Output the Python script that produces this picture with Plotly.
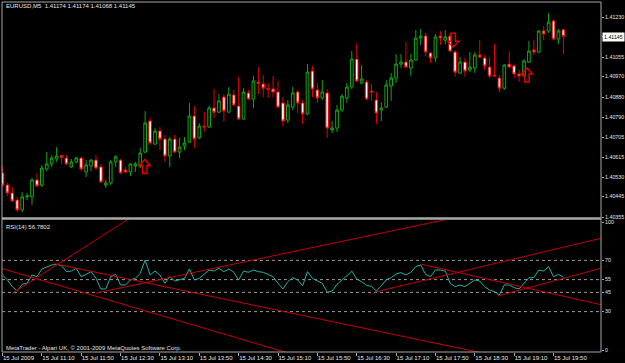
import plotly.graph_objects as go

# ---------------- data ----------------
bars = list(range(115))  # 5-minute bars, 15 Jul 2009 10:30 .. 20:00

opens = [1.40548, 1.40495, 1.40460, 1.40429, 1.40386, 1.40443, 1.40443, 1.40517, 1.40495, 1.40565,
         1.40587, 1.40609, 1.40624, 1.40613, 1.40574, 1.40596, 1.40613, 1.40552, 1.40578, 1.40604,
         1.40574, 1.40495, 1.40504, 1.40596, 1.40604, 1.40561, 1.40552, 1.40578, 1.40578, 1.40639,
         1.40775, 1.40674, 1.40731, 1.40696, 1.40622, 1.40696, 1.40639, 1.40666, 1.40683, 1.40797,
         1.40701, 1.40753, 1.40749, 1.40832, 1.40814, 1.40880, 1.40814, 1.40889, 1.40841, 1.40784,
         1.40898, 1.40871, 1.40946, 1.40937, 1.40917, 1.40915, 1.40902, 1.40854, 1.40779, 1.40836,
         1.40902, 1.40854, 1.40806, 1.40994, 1.40911, 1.40876, 1.40898, 1.40736, 1.40744, 1.40823,
         1.40876, 1.40924, 1.41046, 1.40941, 1.40946, 1.40906, 1.40867, 1.40823, 1.40836, 1.40928,
         1.40963, 1.41024, 1.41033, 1.41007, 1.41042, 1.41138, 1.41147, 1.41073, 1.41051, 1.41147,
         1.41129, 1.41147, 1.41077, 1.40985, 1.41033, 1.40998, 1.41007, 1.41064, 1.41051, 1.41011,
         1.40976, 1.40963, 1.40919, 1.41024, 1.41016, 1.40981, 1.40972, 1.41033, 1.41086, 1.41077,
         1.41169, 1.41169, 1.41213, 1.41134, 1.41174]
highs = [1.40578, 1.40504, 1.40486, 1.40443, 1.40464, 1.40460, 1.40526, 1.40548, 1.40583, 1.40639,
         1.40626, 1.40661, 1.40626, 1.40626, 1.40609, 1.40618, 1.40618, 1.40604, 1.40609, 1.40626,
         1.40587, 1.40517, 1.40604, 1.40626, 1.40609, 1.40574, 1.40591, 1.40596, 1.40657, 1.40819,
         1.40788, 1.40744, 1.40749, 1.40714, 1.40705, 1.40714, 1.40701, 1.40705, 1.40854, 1.40841,
         1.40766, 1.40814, 1.40841, 1.40915, 1.40893, 1.40893, 1.40924, 1.40911, 1.40968, 1.40919,
         1.40911, 1.40972, 1.41011, 1.40976, 1.40941, 1.40972, 1.40950, 1.40880, 1.40867, 1.40924,
         1.40911, 1.40867, 1.41024, 1.41016, 1.40941, 1.40954, 1.40915, 1.40775, 1.40845, 1.40893,
         1.40941, 1.41081, 1.41116, 1.41020, 1.40954, 1.40937, 1.40902, 1.40858, 1.40954, 1.40985,
         1.41068, 1.41068, 1.41121, 1.41068, 1.41173, 1.41178, 1.41160, 1.41077, 1.41156, 1.41169,
         1.41173, 1.41160, 1.41086, 1.41055, 1.41051, 1.41077, 1.41077, 1.41129, 1.41064, 1.41055,
         1.41112, 1.40976, 1.41024, 1.41081, 1.41024, 1.40998, 1.41046, 1.41125, 1.41129, 1.41173,
         1.41191, 1.41248, 1.41221, 1.41178, 1.41174]
lows = [1.40486, 1.40447, 1.40421, 1.40377, 1.40377, 1.40429, 1.40408, 1.40486, 1.40486, 1.40556,
        1.40574, 1.40596, 1.40587, 1.40583, 1.40570, 1.40591, 1.40556, 1.40530, 1.40556, 1.40561,
        1.40504, 1.40482, 1.40495, 1.40574, 1.40543, 1.40548, 1.40534, 1.40552, 1.40569, 1.40635,
        1.40670, 1.40670, 1.40648, 1.40596, 1.40574, 1.40635, 1.40613, 1.40648, 1.40679, 1.40657,
        1.40696, 1.40727, 1.40744, 1.40788, 1.40810, 1.40771, 1.40812, 1.40841, 1.40779, 1.40779,
        1.40867, 1.40832, 1.40893, 1.40880, 1.40876, 1.40880, 1.40832, 1.40753, 1.40766, 1.40823,
        1.40810, 1.40762, 1.40801, 1.40880, 1.40854, 1.40867, 1.40701, 1.40723, 1.40727, 1.40814,
        1.40854, 1.40915, 1.40946, 1.40937, 1.40867, 1.40863, 1.40762, 1.40775, 1.40832, 1.40863,
        1.40941, 1.41007, 1.41007, 1.40972, 1.41038, 1.41108, 1.41059, 1.41029, 1.41033, 1.41108,
        1.41112, 1.41077, 1.40968, 1.40981, 1.40968, 1.40989, 1.40985, 1.41051, 1.40998, 1.40963,
        1.40968, 1.40902, 1.40911, 1.41007, 1.40963, 1.40946, 1.40968, 1.41029, 1.41064, 1.41073,
        1.41129, 1.41160, 1.41129, 1.41112, 1.41068]
closes = [1.40495, 1.40460, 1.40425, 1.40386, 1.40443, 1.40447, 1.40517, 1.40491, 1.40569, 1.40587,
          1.40613, 1.40622, 1.40615, 1.40587, 1.40596, 1.40613, 1.40565, 1.40583, 1.40604, 1.40569,
          1.40508, 1.40504, 1.40596, 1.40618, 1.40548, 1.40552, 1.40587, 1.40587, 1.40635, 1.40766,
          1.40679, 1.40731, 1.40696, 1.40622, 1.40696, 1.40639, 1.40661, 1.40679, 1.40797, 1.40696,
          1.40753, 1.40749, 1.40832, 1.40814, 1.40863, 1.40819, 1.40893, 1.40845, 1.40784, 1.40902,
          1.40871, 1.40950, 1.40939, 1.40919, 1.40913, 1.40902, 1.40836, 1.40775, 1.40845, 1.40898,
          1.40854, 1.40806, 1.40989, 1.40915, 1.40876, 1.40902, 1.40744, 1.40744, 1.40823, 1.40884,
          1.40924, 1.41046, 1.40950, 1.40959, 1.40871, 1.40902, 1.40810, 1.40832, 1.40933, 1.40963,
          1.41024, 1.41033, 1.41011, 1.41042, 1.41138, 1.41147, 1.41077, 1.41051, 1.41143, 1.41138,
          1.41143, 1.41081, 1.40989, 1.41033, 1.40994, 1.41011, 1.41064, 1.41055, 1.41016, 1.40972,
          1.40972, 1.40919, 1.41020, 1.41011, 1.40981, 1.40972, 1.41038, 1.41081, 1.41077, 1.41169,
          1.41156, 1.41208, 1.41134, 1.41169, 1.41145]

rsi = [58.6, 54.7, 49.5, 46.1, 51.3, 52.1, 58.6, 57.3, 63.3, 64.6,
       66.4, 66.9, 65.9, 61.2, 61.7, 63.8, 57.3, 59.1, 61.2, 56.0,
       47.7, 47.7, 57.3, 59.1, 50.8, 50.8, 54.7, 56.0, 59.9, 70.3,
       58.6, 61.7, 58.6, 52.1, 57.3, 53.9, 54.7, 56.0, 63.3, 54.7,
       56.0, 59.1, 62.5, 61.7, 63.8, 61.2, 63.3, 60.7, 54.7, 61.7,
       60.7, 62.5, 61.2, 60.7, 59.1, 57.3, 52.1, 47.7, 53.4, 56.5,
       54.7, 50.2, 61.2, 56.0, 53.9, 52.1, 45.1, 46.1, 51.3, 54.4,
       58.0, 61.7, 55.5, 53.4, 50.5, 49.7, 46.1, 50.2, 54.9, 56.5,
       59.4, 60.4, 58.6, 60.7, 65.1, 66.4, 59.1, 57.3, 62.5, 62.5,
       61.7, 52.1, 49.5, 50.8, 49.5, 52.1, 54.7, 53.9, 49.5, 46.9,
       45.6, 43.0, 50.8, 50.8, 48.7, 47.7, 52.1, 56.5, 56.5, 62.5,
       61.7, 65.1, 57.3, 59.1, 56.78]

# RSI trendlines: two anchor points each (bar index, RSI value), drawn as rays to the right
tl_x0 = [2.0, -2.0, 10.5, 19.0, 75.7, 84.9, 100.7]
tl_v0 = [44.3, 65.8, 67.5, 44.5, 45.3, 67.2, 42.2]
tl_x1 = [11.0, 56.0, 62.5, 89.7, 121.9, 121.9, 121.9]
tl_v1 = [66.4, 0.0, 25.8, 101.6, 87.5, 35.2, 64.1]

rsi_levels = [70, 55, 45, 30]

# arrow objects on the price chart (bar index, price)
up_arrow_x = [28.9, 106.6]
up_arrow_y = [1.40576, 1.40976]
down_arrow_x = [91.6]
down_arrow_y = [1.41129]

price_ticks = [1.40355, 1.40445, 1.40530, 1.40615, 1.40705, 1.40790, 1.40880,
               1.40970, 1.41055, 1.41145, 1.41230]
rsi_ticks = [0, 30, 45, 55, 70, 100]
time_tick_pos = [0, 8, 16, 24, 32, 40, 48, 56, 64, 72, 80, 88, 96, 104, 112]
time_tick_text = ["15 Jul 2009", "15 Jul 11:10", "15 Jul 11:50", "15 Jul 12:30",
                  "15 Jul 13:10", "15 Jul 13:50", "15 Jul 14:30", "15 Jul 15:10",
                  "15 Jul 15:50", "15 Jul 16:30", "15 Jul 17:10", "15 Jul 17:50",
                  "15 Jul 18:30", "15 Jul 19:10", "15 Jul 19:50"]

symbol_title = "EURUSD,M5"
rsi_title = "RSI(14) 56.7802"
footer = "MetaTrader - Alpari UK, \u00a9 2001-2009 MetaQuotes Software Corp."

# ---------------- style ----------------
FONT = "Liberation Sans"
FS = 6
FS_Y = 5.3
TXT = "#e6e6e6"
FRAME = "#a8a8a8"
UP = "#12a812"
DN = "#e80000"
TL = "#c80000"

fig = go.Figure()

fig.add_trace(go.Candlestick(
    x=bars, open=opens, high=highs, low=lows, close=closes,
    increasing=dict(line=dict(color=UP, width=1), fillcolor="black"),
    decreasing=dict(line=dict(color=DN, width=1), fillcolor="white"),
    whiskerwidth=0, hoverinfo="skip", xaxis="x", yaxis="y"))

fig.add_trace(go.Scatter(x=bars, y=rsi, mode="lines",
                         line=dict(color="#20b2aa", width=1),
                         hoverinfo="skip", xaxis="x", yaxis="y2"))

X_END = 130
for x0, v0, x1, v1 in zip(tl_x0, tl_v0, tl_x1, tl_v1):
    slope = (v1 - v0) / (x1 - x0)
    fig.add_trace(go.Scatter(x=[x0, X_END], y=[v0, v0 + slope * (X_END - x0)],
                             mode="lines", line=dict(color=TL, width=1),
                             hoverinfo="skip", xaxis="x", yaxis="y2"))

shapes = []
# frame
shapes.append(dict(type="line", xref="paper", yref="paper", x0=0, x1=1, y0=1, y1=1,
                   line=dict(color=FRAME, width=1)))
shapes.append(dict(type="line", xref="paper", yref="paper", x0=0, x1=0, y0=0, y1=1,
                   line=dict(color=FRAME, width=1)))
shapes.append(dict(type="line", xref="paper", yref="paper", x0=1, x1=1, y0=0, y1=1,
                   line=dict(color=FRAME, width=1)))
shapes.append(dict(type="line", xref="paper", yref="paper", x0=0, x1=1, y0=0, y1=0,
                   line=dict(color=FRAME, width=1)))
shapes.append(dict(type="line", xref="paper", yref="paper", x0=0, x1=1,
                   y0=(352 - 218.5) / 350, y1=(352 - 218.5) / 350,
                   line=dict(color=FRAME, width=2.5)))
# RSI levels
for lv in rsi_levels:
    shapes.append(dict(type="line", xref="paper", yref="y2", x0=0, x1=1, y0=lv, y1=lv,
                       line=dict(color="#9a9a9a", width=1, dash="dot"), layer="below"))
# arrows
UP_PATH = "M0,7 L5.5,1 L2.2,1 L2.2,-7 L-2.2,-7 L-2.2,1 L-5.5,1 Z"
DN_PATH = "M0,-7 L5.5,-1 L2.2,-1 L2.2,7 L-2.2,7 L-2.2,-1 L-5.5,-1 Z"
for ax_, ay_ in zip(up_arrow_x, up_arrow_y):
    shapes.append(dict(type="path", xref="x", yref="y", xsizemode="pixel", ysizemode="pixel",
                       xanchor=ax_, yanchor=ay_, path=UP_PATH,
                       line=dict(color="#e00000", width=1.5), fillcolor="rgba(0,0,0,0)"))
for ax_, ay_ in zip(down_arrow_x, down_arrow_y):
    shapes.append(dict(type="path", xref="x", yref="y", xsizemode="pixel", ysizemode="pixel",
                       xanchor=ax_, yanchor=ay_, path=DN_PATH,
                       line=dict(color="#e00000", width=1.5), fillcolor="rgba(0,0,0,0)"))

header = "%s  %.5f %.5f %.5f %.5f" % (symbol_title, opens[-1], highs[-1], lows[-1], closes[-1])
annotations = [
    dict(text=header, xref="paper", yref="paper", x=0.004, y=(352 - 6) / 350,
         xanchor="left", yanchor="middle", showarrow=False,
         font=dict(family=FONT, size=FS, color=TXT)),
    dict(text=rsi_title, xref="paper", yref="paper", x=0.004, y=(352 - 226.5) / 350,
         xanchor="left", yanchor="middle", showarrow=False,
         font=dict(family=FONT, size=FS, color=TXT)),
    dict(text=footer, xref="paper", yref="paper", x=0.004, y=(352 - 348) / 350,
         xanchor="left", yanchor="middle", showarrow=False,
         font=dict(family=FONT, size=FS, color=TXT)),
    dict(text="%.5f" % closes[-1], xref="paper", yref="y", x=1, y=closes[-1],
         xanchor="left", yanchor="middle", xshift=1, showarrow=False,
         bgcolor="white", borderpad=1,
         font=dict(family=FONT, size=FS_Y, color="black")),
]

tickfont = dict(family=FONT, size=FS, color=TXT)
ytickfont = dict(family=FONT, size=FS_Y, color=TXT)
fig.update_layout(
    width=625, height=363,
    margin=dict(l=2, r=24, t=2, b=11, pad=0, autoexpand=False),
    paper_bgcolor="black", plot_bgcolor="black",
    showlegend=False,
    boxgap=0.22,
    xaxis=dict(domain=[0, 1], anchor="y2", range=[-0.1, 121.65],
               tickmode="array", tickvals=time_tick_pos, ticktext=time_tick_text,
               ticks="outside", ticklen=3, tickcolor=FRAME, tickfont=tickfont,
               ticklabelposition="outside right", tickangle=0, automargin=False,
               showgrid=False, zeroline=False, showline=False,
               rangeslider=dict(visible=False)),
    yaxis=dict(domain=[(352 - 217) / 350, 1], range=[1.40355, 1.41296], anchor="x",
               side="right", tickmode="array", tickvals=price_ticks,
               ticktext=["%.5f" % v for v in price_ticks], automargin=False,
               ticks="outside", ticklen=2, tickcolor=FRAME, tickfont=ytickfont,
               showgrid=False, zeroline=False, showline=False),
    yaxis2=dict(domain=[0, (352 - 220) / 350], range=[-1.56, 101.56], anchor="x",
                side="right", tickmode="array", tickvals=rsi_ticks,
                ticktext=[str(v) for v in rsi_ticks], automargin=False,
                ticks="outside", ticklen=2, tickcolor=FRAME, tickfont=ytickfont,
                showgrid=False, zeroline=False, showline=False),
    shapes=shapes,
    annotations=annotations,
)

fig.write_html("out.html")
